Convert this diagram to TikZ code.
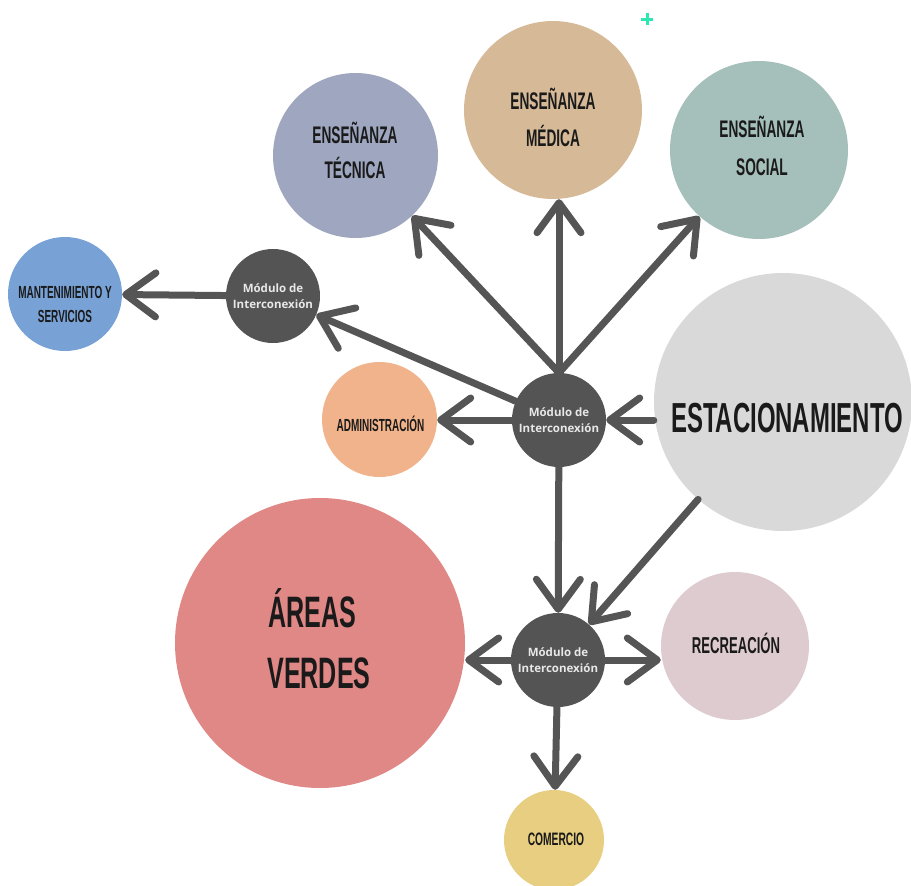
\documentclass[tikz,border=0pt]{standalone}
\usepackage{fontspec}
\newfontfamily\bebas[FakeStretch=0.57]{Liberation Sans}
\newfontfamily\opens{Open Sans}
\usetikzlibrary{arrows.meta,calc}
\definecolor{ctec}{HTML}{9EA7BF}
\definecolor{cmed}{HTML}{D6BA98}
\definecolor{csoc}{HTML}{A5BFBA}
\definecolor{cmant}{HTML}{78A2D6}
\definecolor{cadm}{HTML}{F1B38B}
\definecolor{cest}{HTML}{D9D9D9}
\definecolor{cav}{HTML}{E08886}
\definecolor{crec}{HTML}{DECBD0}
\definecolor{ccom}{HTML}{E8CE80}
\definecolor{modc}{HTML}{545454}
\definecolor{arr}{HTML}{555555}
\definecolor{txt}{HTML}{1A1A1A}
\definecolor{modtxt}{HTML}{E8E8E8}
\definecolor{plusc}{HTML}{2DE8B0}
\newcommand\bbf[1]{\bebas\bfseries\fontsize{#1}{#1}\selectfont}
\begin{document}
\begin{tikzpicture}[x=1pt,y=-1pt,
  bub/.style={circle,inner sep=0pt,minimum size=#1},
  lbl/.style={anchor=base,text=txt,inner sep=0pt},
  mod/.style={circle,fill=modc,minimum size=94pt,inner sep=0pt,align=center,text=modtxt,
    font=\opens\bfseries\fontsize{11.5}{16}\selectfont},
  conn/.style={draw=arr,line width=7pt,line cap=round,
    -{Straight Barb[length=30pt,width=44pt,round]}}]
\useasboundingbox (0,0) rectangle (911,886);
% bubbles
\node[bub=165pt,fill=ctec] (tec) at (355.5,155.5) {};
\node[bub=178pt,fill=cmed] (med) at (553,110) {};
\node[bub=178pt,fill=csoc] (soc) at (759,150) {};
\node[bub=114pt,fill=cmant] (mant) at (65,294) {};
\node[bub=115pt,fill=cadm] (adm) at (379.5,419.5) {};
\node[bub=258pt,fill=cest] (est) at (783,402) {};
\node[bub=290pt,fill=cav] (av) at (320,643) {};
\node[bub=148pt,fill=crec] (rec) at (735,646) {};
\node[bub=100pt,fill=ccom] (com) at (554,840) {};
% modules
\node[mod] (ml) at (273,296) {Módulo de\\Interconexión};
\node[mod] (mc) at (559,420) {Módulo de\\Interconexión};
\node[mod] (mb) at (558,660) {Módulo de\\Interconexión};
% labels
\node[lbl,font=\bbf{24}] (tec1) at (355,143) {ENSEÑANZA};
\node[lbl,font=\bbf{24}] (tec2) at (355,178) {TÉCNICA};
\node[lbl,font=\bbf{24}] (med1) at (553,109) {ENSEÑANZA};
\node[lbl,font=\bbf{24}] (med2) at (553,146) {MÉDICA};
\node[lbl,font=\bbf{24}] (soc1) at (762,137) {ENSEÑANZA};
\node[lbl,font=\bbf{24}] (soc2) at (762,175) {SOCIAL};
\node[lbl,font=\bbf{17.5}] (mant1) at (65,298) {MANTENIMIENTO Y};
\node[lbl,font=\bbf{17.5}] (mant2) at (65,322) {SERVICIOS};
\node[lbl,font=\bbf{17.5}] (adm1) at (380.5,431) {ADMINISTRACIÓN};
\node[lbl,font=\bbf{42}] (est1) at (787,432) {ESTACIONAMIENTO};
\node[lbl,font=\bbf{44}] (av1) at (312,627) {ÁREAS};
\node[lbl,font=\bbf{44}] (av2) at (319,688) {VERDES};
\node[lbl,font=\bbf{23}] (rec1) at (736,653) {RECREACIÓN};
\node[lbl,font=\bbf{18}] (com1) at (556,845) {COMERCIO};
% connectors
\draw[conn] (mc.north) -- (tec);
\draw[conn] (mc.north) -- (mc.north |- med.south);
\draw[conn] (mc.north) -- (soc);
\draw[conn] (mc) -- (ml);
\draw[conn] (ml) -- (mant);
\draw[conn] (mc) -- (mc -| adm.east);
\draw[conn] (mc -| est.west) -- (mc);
\draw[conn] (mc) -- (mb);
\draw[conn] (est) -- (mb);
\draw[conn] (mb) -- (mb -| av.east);
\draw[conn] (mb) -- (mb -| rec.west);
\draw[conn] (mb) -- (com);
% plus mark
\draw[plusc,line width=3pt] (641,19) -- (653,19) (647,13) -- (647,25);
\end{tikzpicture}
\end{document}
